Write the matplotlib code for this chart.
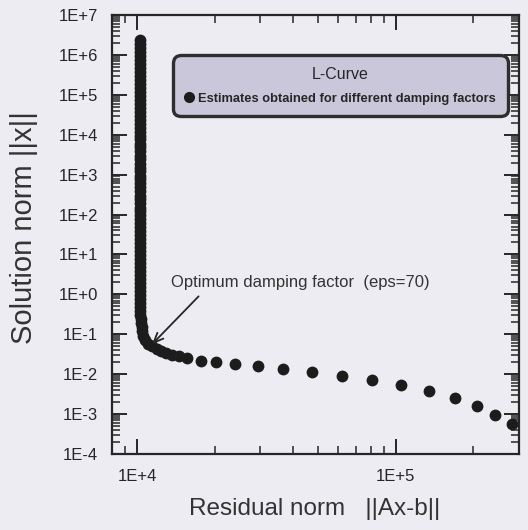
import numpy as np
import matplotlib
matplotlib.use("Agg")
import matplotlib.pyplot as plt
from matplotlib.ticker import LogLocator, FuncFormatter, NullFormatter
from matplotlib.lines import Line2D

plt.rcParams['font.family'] = ['Liberation Sans', 'DejaVu Sans']

# --- data ---
# vertical branch of the L-curve
col_y = [2.4e6, 1.9e6, 1.5e6, 1.2e6, 9.5e5, 7.6e5, 6.0e5, 4.8e5, 3.8e5, 3.0e5,
         2.4e5, 1.9e5, 1.5e5, 1.2e5, 9.5e4, 7.6e4, 6.0e4, 4.8e4, 3.8e4, 3.0e4,
         2.4e4, 1.9e4, 1.5e4, 1.2e4, 9.5e3, 7.6e3, 6.0e3, 4.8e3, 3.8e3, 3.0e3,
         2.4e3, 1.9e3, 1.5e3, 1.2e3, 950, 760, 600, 480, 380, 300,
         240, 190, 150, 120, 95, 76, 60, 48, 38, 30,
         24, 19, 15, 12, 9.5, 7.6, 6.0, 4.8, 3.8, 3.0,
         2.4, 1.9, 1.5, 1.2, 0.95, 0.76, 0.60, 0.48, 0.38, 0.30,
         0.24, 0.19, 0.15, 0.12]
col_x = [10300] * 70 + [10350, 10400, 10440, 10480]
# bend of the L-curve
bend_x = [10550, 10700, 11000, 11400, 11900, 12400, 13000, 13700, 14500]
bend_y = [0.092, 0.072, 0.058, 0.050, 0.043, 0.038, 0.034, 0.031, 0.028]
# horizontal branch (separated dots)
hor_x = [15600, 17650, 20200, 23900, 29300, 36600, 47500, 62000, 80800,
         105000, 135000, 170000, 207000, 243000, 281000]
hor_y = [0.025, 0.0211, 0.020, 0.0178, 0.0158, 0.0133, 0.0112, 0.0089, 0.0071,
         0.0053, 0.0038, 0.0025, 0.0016, 0.00094, 0.00056]

x_all = col_x + bend_x + hor_x
y_all = col_y + bend_y + hor_y

x_limits = (8000, 3.0e5)
y_limits = (1e-4, 1e7)
optimum_point = (11430, 0.056)
optimum_label = "Optimum damping factor  (eps=70)"

bg = '#EDECF2'
ink = '#262626'

fig = plt.figure(figsize=(5.28, 5.30), dpi=100, facecolor=bg)
ax = fig.add_axes([0.212, 0.1434, 0.771, 0.8283])
ax.set_facecolor(bg)

ax.plot(x_all, y_all, 'o', color='#1c1c1c', markersize=8.5, markeredgewidth=0)

ax.set_xscale('log')
ax.set_yscale('log')
ax.set_xlim(*x_limits)
ax.set_ylim(*y_limits)

fmt = FuncFormatter(lambda v, p: f"1E{int(round(np.log10(v))):+d}")
ax.xaxis.set_major_locator(LogLocator(base=10, numticks=20))
ax.yaxis.set_major_locator(LogLocator(base=10, numticks=20))
ax.xaxis.set_minor_locator(LogLocator(base=10, subs=np.arange(2, 10), numticks=100))
ax.yaxis.set_minor_locator(LogLocator(base=10, subs=np.arange(2, 10), numticks=100))
ax.xaxis.set_major_formatter(fmt)
ax.yaxis.set_major_formatter(fmt)
ax.xaxis.set_minor_formatter(NullFormatter())
ax.yaxis.set_minor_formatter(NullFormatter())

ax.tick_params(which='both', direction='in', top=True, right=True, colors=ink)
ax.tick_params(which='major', length=11, width=1.4, labelsize=12)
ax.tick_params(which='minor', length=6, width=1.1)
ax.tick_params(axis='x', which='major', pad=11)
ax.tick_params(axis='y', which='major', pad=10)
for s in ax.spines.values():
    s.set_linewidth(1.6)
    s.set_color(ink)

ax.set_xlabel("Residual norm   ||Ax-b||", fontsize=17.5, color='#333333',
              va='center')
ax.set_ylabel("Solution norm ||x||", fontsize=21, color='#333333',
              va='center')
ax.xaxis.set_label_coords(0.499, -0.125)
ax.yaxis.set_label_coords(-0.217, 0.515)

# annotation
ax.annotate('', xy=optimum_point, xytext=(17300, 0.89),
            arrowprops=dict(arrowstyle='->,head_length=0.7,head_width=0.3',
                            color=ink, lw=1.3, shrinkA=0, shrinkB=0))
ax.text(13500, 2.0, optimum_label, fontsize=12, color='#333333',
        ha='left', va='center')

# legend
h = Line2D([], [], linestyle='none', marker='o', color='#1c1c1c', markersize=8,
           markeredgewidth=0)
leg = ax.legend([h], ["Estimates obtained for different damping factors"],
                title="L-Curve", loc='upper left',
                bbox_to_anchor=(0.15, 0.765, 0.823, 0.144), mode='expand',
                fancybox=True, framealpha=1, facecolor='#C9C7D9',
                edgecolor='#2e2e2e', handlelength=0.7, handletextpad=0.35,
                borderpad=0.9, borderaxespad=0, labelspacing=0.3,
                prop={'size': 9.3, 'weight': 'bold'},
                title_fontproperties={'size': 11.5})
leg.get_frame().set_linewidth(2.4)
leg.get_frame().set_boxstyle('round,pad=0,rounding_size=0.6')
leg._legend_box.sep = 8
for t in leg.get_texts():
    t.set_color('#262626')
leg.get_title().set_color('#262626')

fig.savefig('out.png', dpi=100, facecolor=bg)
